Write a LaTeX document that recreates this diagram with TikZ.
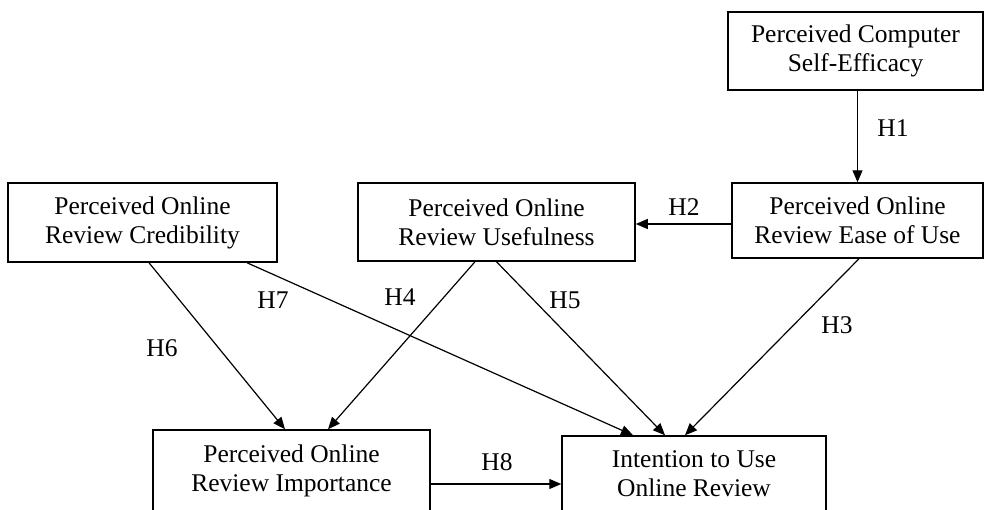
\documentclass[tikz,border=0pt]{standalone}
\usepackage{fontspec}
\setmainfont{Liberation Serif}
\usetikzlibrary{arrows.meta}
\tikzset{
  box/.style={draw, line width=1.5pt, align=center, inner sep=0pt,
    font=\fontsize{25.5}{29}\selectfont},
  arr/.style={line width=1.2pt, -{Triangle[length=12pt,width=10pt]}},
  lab/.style={font=\fontsize{25.5}{29}\selectfont, inner sep=0pt}
}
\begin{document}
\begin{tikzpicture}[x=1pt,y=-1pt]
\useasboundingbox (0,0) rectangle (985,509);
\node[box, minimum width=255pt, minimum height=78pt] (pcse) at (855.5,51) {Perceived Computer\\Self-Efficacy};
\node[box, minimum width=251pt, minimum height=75pt] (ease) at (857.5,220.5) {Perceived Online\\Review Ease of Use};
\node[box, minimum width=277pt, minimum height=78pt] (use) at (496.5,222) {Perceived Online\\Review Usefulness};
\node[box, minimum width=269pt, minimum height=79pt] (cred) at (142.5,222.5) {Perceived Online\\Review Credibility};
\node[box, minimum width=277pt, minimum height=82pt] (imp) at (291.5,471) {Perceived Online\\Review Importance};
\node[box, minimum width=264pt, minimum height=76pt] (int) at (694,474) {Intention to Use\\Online Review};

\draw[arr] (ease.north |- pcse.south) -- (ease.north);
\draw[arr] ([yshift=-3.5pt]ease.west) -- ([yshift=-3.5pt]ease.west -| use.east);
\draw[arr] ([xshift=1.5pt]ease.south) -- ([xshift=-9pt]int.north);
\draw[arr] (use.south) -- ([xshift=-29pt]int.north);
\draw[arr] ([xshift=104.5pt]cred.south) -- ([xshift=-61pt]int.north);
\draw[arr] ([xshift=-21.5pt]use.south) -- ([xshift=36.5pt]imp.north);
\draw[arr] ([xshift=6.5pt]cred.south) -- ([xshift=-6.5pt]imp.north);
\draw[arr] ([yshift=-13pt]imp.east) -- ([yshift=-13pt]imp.east -| int.west);

\node[lab] (h1) at (893,128) {H1};
\node[lab] (h2) at (684,207) {H2};
\node[lab] (h3) at (837,325) {H3};
\node[lab] (h4) at (400,297) {H4};
\node[lab] (h5) at (565,300) {H5};
\node[lab] (h6) at (162,348) {H6};
\node[lab] (h7) at (273,300) {H7};
\node[lab] (h8) at (497,462) {H8};
\end{tikzpicture}
\end{document}
